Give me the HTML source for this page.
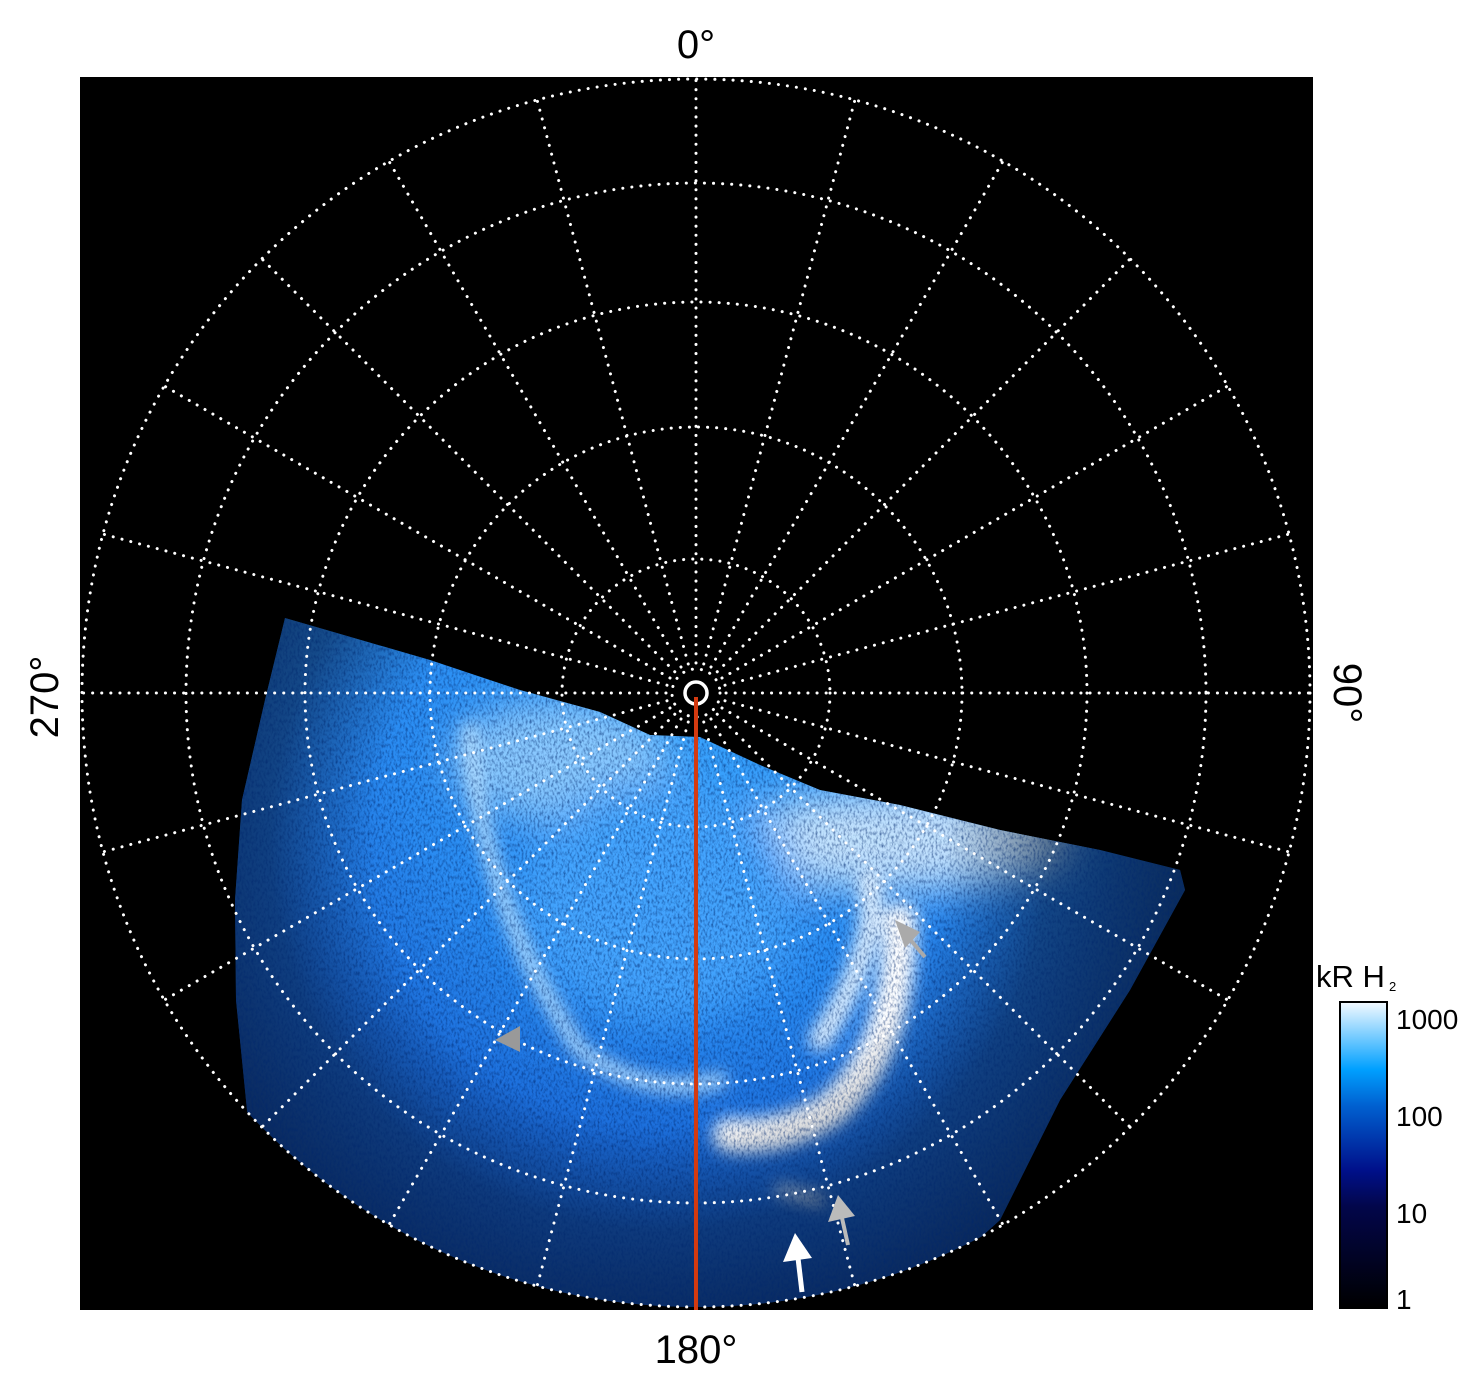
<!DOCTYPE html>
<html><head><style>
html,body{margin:0;padding:0;background:#fff;}
body{width:1481px;height:1386px;overflow:hidden;}
</style></head><body>
<svg width="1481" height="1386" viewBox="0 0 1481 1386" xmlns="http://www.w3.org/2000/svg" font-family="Liberation Sans, sans-serif">
<defs>
<clipPath id="aur">
<polygon points="285,618 430,660 520,690 600,712 650,735 700,737 760,765 820,790 900,805 1000,830 1100,850 1180,870 1185,890 1130,990 1060,1100 1000,1220 900,1310 500,1310 250,1140 236,1000 235,900 242,800 265,700"/>
</clipPath>
<clipPath id="circ"><circle cx="696" cy="693" r="614"/></clipPath>
<filter id="b8"><feGaussianBlur stdDeviation="8"/></filter>
<filter id="b20"><feGaussianBlur stdDeviation="20"/></filter>
<filter id="noise" x="0" y="0" width="100%" height="100%">
<feTurbulence type="fractalNoise" baseFrequency="0.5 0.25" numOctaves="2" seed="3"/>
<feColorMatrix values="0 0 0 0 0  0 0 0 0 0.02  0 0 0 0 0.15  0 0 0 -2.2 1.25"/>
</filter>
<linearGradient id="cb" x1="0" y1="1" x2="0" y2="0">
<stop offset="0" stop-color="#000"/>
<stop offset="0.33" stop-color="#02064a"/>
<stop offset="0.45" stop-color="#00108a"/>
<stop offset="0.66" stop-color="#0060d0"/>
<stop offset="0.78" stop-color="#00a0ff"/>
<stop offset="1" stop-color="#f4faff"/>
</linearGradient>
<radialGradient id="base" cx="696" cy="693" r="614" gradientUnits="userSpaceOnUse">
<stop offset="0" stop-color="#3aa6ff"/>
<stop offset="0.5" stop-color="#2a8cf2"/>
<stop offset="0.75" stop-color="#1a6ad8"/>
<stop offset="1" stop-color="#1458c8"/>
</radialGradient>
<radialGradient id="dark" cx="660" cy="840" r="520" gradientUnits="userSpaceOnUse">
<stop offset="0" stop-color="#000" stop-opacity="0"/>
<stop offset="0.55" stop-color="#000" stop-opacity="0"/>
<stop offset="0.75" stop-color="#000" stop-opacity="0.4"/>
<stop offset="1" stop-color="#000" stop-opacity="0.55"/>
</radialGradient>
</defs>
<rect x="80" y="77" width="1233" height="1233" fill="#000"/>
<g clip-path="url(#circ)">
<g clip-path="url(#aur)">
<rect x="80" y="600" width="1233" height="720" fill="url(#base)"/>
<g filter="url(#b20)" fill="#9fd4ff" opacity="0.8">
<ellipse cx="560" cy="760" rx="110" ry="60"/>
<ellipse cx="900" cy="840" rx="170" ry="50" fill="#e8f6ff"/>
<ellipse cx="660" cy="900" rx="140" ry="120" fill="#4aa8ff"/>
</g>
<g filter="url(#b8)" fill="none" stroke-linecap="round">
<path d="M470,730 Q480,900 580,1050 Q650,1100 720,1080" stroke="#b8e0ff" stroke-width="14"/>
<path d="M900,920 Q900,1050 830,1110 Q780,1140 730,1135" stroke="#fff" stroke-width="34"/>
<path d="M870,880 Q880,950 820,1040" stroke="#dff0ff" stroke-width="22"/>
<path d="M780,1190 L820,1200" stroke="#dff0ff" stroke-width="10"/>
</g>
<rect x="80" y="600" width="1233" height="720" fill="url(#dark)"/>
<rect x="80" y="600" width="1233" height="720" fill="#000" filter="url(#noise)" opacity="0.6"/>
</g>
</g>
<g fill="none" stroke="#fff" stroke-width="3" stroke-dasharray="0.1 9" stroke-linecap="round">
<circle cx="696" cy="693" r="614"/>
<circle cx="696" cy="693" r="510"/>
<circle cx="696" cy="693" r="391"/>
<circle cx="696" cy="693" r="266"/>
<circle cx="696" cy="693" r="134"/>
<circle cx="696" cy="693" r="24"/>
<line x1="696" y1="663" x2="696" y2="79"/>
<line x1="696" y1="663" x2="696" y2="79" transform="rotate(15 696 693)"/>
<line x1="696" y1="663" x2="696" y2="79" transform="rotate(30 696 693)"/>
<line x1="696" y1="663" x2="696" y2="79" transform="rotate(45 696 693)"/>
<line x1="696" y1="663" x2="696" y2="79" transform="rotate(60 696 693)"/>
<line x1="696" y1="663" x2="696" y2="79" transform="rotate(75 696 693)"/>
<line x1="696" y1="663" x2="696" y2="79" transform="rotate(90 696 693)"/>
<line x1="696" y1="663" x2="696" y2="79" transform="rotate(105 696 693)"/>
<line x1="696" y1="663" x2="696" y2="79" transform="rotate(120 696 693)"/>
<line x1="696" y1="663" x2="696" y2="79" transform="rotate(135 696 693)"/>
<line x1="696" y1="663" x2="696" y2="79" transform="rotate(150 696 693)"/>
<line x1="696" y1="663" x2="696" y2="79" transform="rotate(165 696 693)"/>
<line x1="696" y1="663" x2="696" y2="79" transform="rotate(195 696 693)"/>
<line x1="696" y1="663" x2="696" y2="79" transform="rotate(210 696 693)"/>
<line x1="696" y1="663" x2="696" y2="79" transform="rotate(225 696 693)"/>
<line x1="696" y1="663" x2="696" y2="79" transform="rotate(240 696 693)"/>
<line x1="696" y1="663" x2="696" y2="79" transform="rotate(255 696 693)"/>
<line x1="696" y1="663" x2="696" y2="79" transform="rotate(270 696 693)"/>
<line x1="696" y1="663" x2="696" y2="79" transform="rotate(285 696 693)"/>
<line x1="696" y1="663" x2="696" y2="79" transform="rotate(300 696 693)"/>
<line x1="696" y1="663" x2="696" y2="79" transform="rotate(315 696 693)"/>
<line x1="696" y1="663" x2="696" y2="79" transform="rotate(330 696 693)"/>
<line x1="696" y1="663" x2="696" y2="79" transform="rotate(345 696 693)"/>
</g>
<circle cx="696" cy="693" r="11" fill="none" stroke="#fff" stroke-width="3.5"/>
<line x1="696" y1="697" x2="696" y2="1310" stroke="#d43a10" stroke-width="4"/>
<g>
<line x1="925" y1="957" x2="908" y2="937" stroke="#aaa" stroke-width="4"/>
<polygon points="895,920 920,932 905,948" fill="#aaa"/>
<polygon points="495,1040 520,1026 520,1052" fill="#999"/>
<line x1="848" y1="1245" x2="842" y2="1218" stroke="#bbb" stroke-width="4"/>
<polygon points="838,1195 855,1216 828,1222" fill="#bbb"/>
<line x1="802" y1="1292" x2="798" y2="1258" stroke="#fff" stroke-width="5"/>
<polygon points="795,1233 812,1258 783,1262" fill="#fff"/>
</g>
<g font-size="40" fill="#000">
<text x="696" y="58" text-anchor="middle">0°</text>
<text x="696" y="1363" text-anchor="middle">180°</text>
<text transform="translate(58,697) rotate(-90)" text-anchor="middle">270°</text>
<text transform="translate(1334,693) rotate(90)" text-anchor="middle">90°</text>
</g>
<text x="1316" y="987" font-size="31" fill="#000">kR H</text>
<text x="1389" y="991" font-size="13" fill="#000">2</text>
<rect x="1340" y="1002" width="47" height="306" fill="url(#cb)" stroke="#000" stroke-width="2"/>
<g font-size="28" fill="#000">
<text x="1396" y="1029">1000</text>
<text x="1396" y="1126">100</text>
<text x="1396" y="1223">10</text>
<text x="1396" y="1309">1</text>
</g>
</svg>
</body></html>
